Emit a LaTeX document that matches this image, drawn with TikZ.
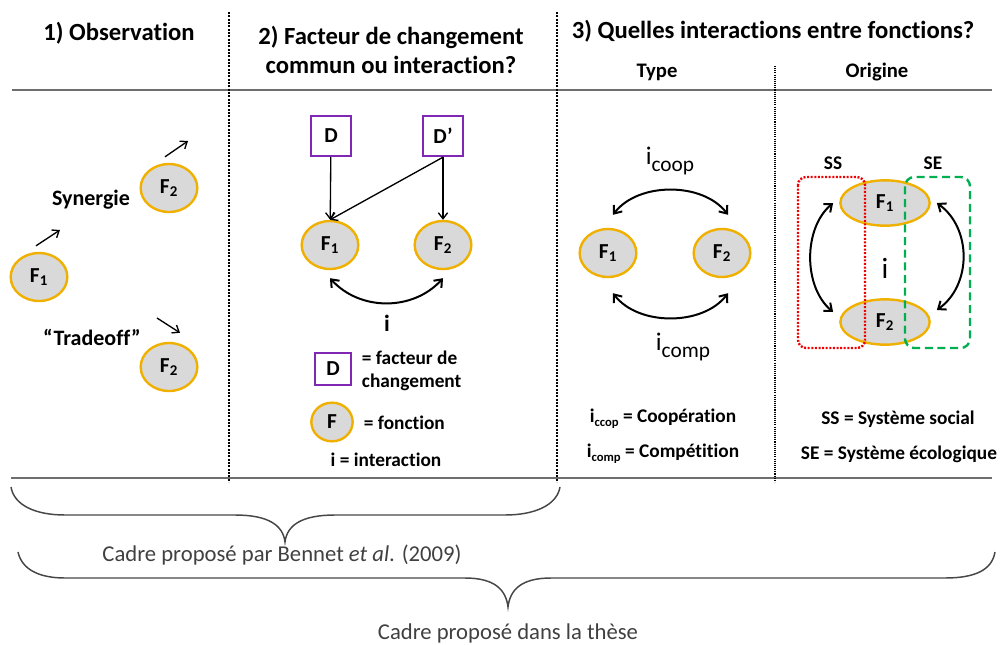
\documentclass[tikz,border=0pt]{standalone}
\usepackage{fontspec}
\setmainfont{Carlito}[Ligatures={NoCommon}]
\usetikzlibrary{shapes.geometric,arrows.meta,calc}

\newcommand{\grandi}[1]{{\fontsize{19}{22}\selectfont i}\raisebox{-5pt}{\fontsize{16}{19}\selectfont #1}}
\newcommand{\petiti}[1]{i\raisebox{-3pt}{\fontsize{9.5}{11}\selectfont #1}}

\tikzset{every picture/.style={line width=0.75pt}}
\tikzset{
	fonction/.style={ellipse, draw={rgb, 255:red, 240; green, 176; blue, 0 }, fill={rgb, 255:red, 217; green, 217; blue, 217 }, line width=1.8pt, inner sep=0pt, minimum width=42.5pt, minimum height=36pt, font=\bfseries\fontsize{16}{18}\selectfont},
	facteur/.style={draw={rgb, 255:red, 128; green, 40; blue, 180 }, line width=1.8pt, inner sep=0pt, minimum width=30pt, minimum height=30pt, font=\bfseries\fontsize{16}{18}\selectfont},
	fleche/.style={-{Straight Barb[length=4.5pt,width=7pt]}, line width=1pt},
	double fleche/.style={{Straight Barb[length=5pt,width=8pt]}-{Straight Barb[length=5pt,width=8pt]}, line width=1.5pt},
	titre/.style={font=\bfseries\fontsize{18.5}{22}\selectfont},
	soustitre/.style={font=\bfseries\fontsize{15.5}{18}\selectfont},
	texte/.style={font=\bfseries\fontsize{14.5}{17}\selectfont},
	observation/.style={font=\bfseries\fontsize{16.5}{19}\selectfont},
	legende/.style={font=\fontsize{17}{20}\selectfont, text={rgb, 255:red, 64; green, 64; blue, 64 }},
	separateur/.style={draw={rgb, 255:red, 110; green, 110; blue, 110 }, line width=1.5pt},
	pointille/.style={line width=1.8pt, dash pattern={on 1.4pt off 1.1pt}},
	pointille fin/.style={line width=0.8pt, dash pattern={on 0.8pt off 0.8pt}},
	systeme social/.style={draw={rgb, 255:red, 240; green, 0; blue, 0 }, line width=1.8pt, dash pattern={on 1.5pt off 1.2pt}, rounded corners=6pt},
	systeme ecologique/.style={draw={rgb, 255:red, 0; green, 176; blue, 80 }, line width=1.8pt, dash pattern={on 6pt off 3.5pt}, rounded corners=7pt},
	accolade/.style={draw={rgb, 255:red, 70; green, 70; blue, 70 }, line width=1.1pt}}

\begin{document}
\begin{tikzpicture}[x=0.75pt,y=0.75pt,yscale=-1,xscale=1]
	\useasboundingbox (0,0) rectangle (1001,644);

	%Straight Lines [separateurs]
	\draw [separateur] (12,90) -- (992,90) ;
	\draw [separateur] (11,478) -- (992,478) ;
	\draw [pointille] (229,12) -- (229,482) ;
	\draw [pointille] (557,12) -- (557,482) ;
	\draw [pointille fin] (775,66) -- (775,482) ;

	% Text Node
	\draw (119,33) node [titre] (titre1) {1) Observation};
	% Text Node
	\draw (391,50) node [titre, align=center] (titre2) {2) Facteur de changement\\commun ou interaction?};
	% Text Node
	\draw (773,31) node [titre] (titre3) {3) Quelles interactions entre fonctions?};
	% Text Node
	\draw (657,72) node [soustitre] (type) {Type};
	% Text Node
	\draw (877,72) node [soustitre] (origine) {Origine};

	%Shape: Ellipse [1) observation]
	\draw (39,277) node [fonction] (f1a) {F\textsubscript{1}};
	\draw (169,188) node [fonction] (f2a) {F\textsubscript{2}};
	\draw (169,367) node [fonction] (f2t) {F\textsubscript{2}};
	% Text Node
	\draw (91,200) node [observation] (synergie) {Synergie};
	% Text Node
	\draw (92,337) node [observation] (tradeoff) {“Tradeoff”};
	%Straight Lines
	\coordinate (hausse1) at (60,230);
	\coordinate (hausse2) at (188,141);
	\coordinate (baisse) at (157,318);
	\draw [fleche] ($(f1a.north)+(-3,-6)$) -- (hausse1) ;
	\draw [fleche] ($(f2a.north)+(-4,-6)$) -- (hausse2) ;
	\draw [fleche] (baisse) -- ($(f2t.north)+(11,-9)$) ;

	%Shape: Rectangle [2) facteurs]
	\draw (331,136) node [facteur] (d) {D};
	\draw (443,136) node [facteur] (dp) {D’};
	%Shape: Ellipse
	\draw (330,245) node [fonction] (f1b) {F\textsubscript{1}};
	\draw (443,245) node [fonction] (f2b) {F\textsubscript{2}};
	%Straight Lines
	\draw [fleche] (d) -- (f1b) ;
	\draw [fleche] (dp) -- (f2b) ;
	\draw [fleche] (dp.south) -- (f1b.north) ;
	%Curve Lines
	\draw [double fleche] ($(f1b.south)+(0,8)$) .. controls +(30,33) and +(-30,33) .. ($(f2b.south)+(0,8)$) ;
	% Text Node
	\draw (387,323) node [font=\bfseries\fontsize{17.5}{20}\selectfont] (ib) {i};
	%legende
	\draw (333,369) node [facteur, minimum width=27pt, minimum height=24pt] (dlegende) {D};
	\draw (357,371) node [texte, anchor=west, align=left] (dtexte) {= facteur de\\changement};
	\draw (332,422) node [fonction, minimum width=31pt, minimum height=29pt] (flegende) {F};
	\draw (359,423) node [texte, anchor=west] (ftexte) {= fonction};
	\draw (386,460) node [texte] (itexte) {i = interaction};

	%Shape: Ellipse [3) type]
	\draw (608,253) node [fonction] (f1c) {F\textsubscript{1}};
	\draw (722,253) node [fonction] (f2c) {F\textsubscript{2}};
	%Curve Lines
	\draw [double fleche] ($(f1c.north)+(5,-13)$) .. controls +(25,-33) and +(-25,-33) .. ($(f2c.north)+(6,-13)$) ;
	\draw [double fleche] ($(f1c.south)+(5,15)$) .. controls +(25,33) and +(-25,33) .. ($(f2c.south)+(6,15)$) ;
	% Text Node
	\draw (670,161) node (icoop) {\grandi{coop}};
	% Text Node
	\draw (683,347) node (icomp) {\grandi{comp}};
	% Text Node
	\draw (663,419) node [texte] (coop) {\petiti{ccop} = Coopération};
	\draw (663,454) node [texte] (comp) {\petiti{comp} = Compétition};

	%Shape: Ellipse [3) origine]
	\draw (885,203) node [fonction, minimum width=67pt, minimum height=34pt] (f1d) {F\textsubscript{1}};
	\draw (885,322) node [fonction, minimum width=67pt, minimum height=34pt] (f2d) {F\textsubscript{2}};
	%Shape: Rectangle
	\draw [systeme social] (798,177) rectangle (865,348) ;
	\draw [systeme ecologique] (905,177) rectangle (970,348) ;
	% Text Node
	\draw (833,163) node [texte] (ss) {SS};
	\draw (933,163) node [texte] (se) {SE};
	%Curve Lines
	\draw [double fleche] ($(f1d.west)+(-6,0)$) .. controls +(-30,25) and +(-30,-25) .. ($(f2d.west)+(-6,-10)$) ;
	\draw [double fleche] ($(f1d.east)+(6,0)$) .. controls +(35,25) and +(35,-25) .. ($(f2d.east)+(6,-12)$) ;
	% Text Node
	\draw (885,268) node [font=\fontsize{22}{24}\selectfont] (id) {i};
	% Text Node
	\draw (898,419) node [texte] (sstexte) {SS = Système social};
	\draw (899,454) node [texte] (setexte) {SE = Système écologique};

	%Curve Lines [accolades]
	\draw [accolade] (11,487) .. controls (14,505) and (35,515) .. (65,515) -- (235,515) .. controls (268,515) and (283,525) .. (285,542) .. controls (287,525) and (302,515) .. (335,515) -- (505,515) .. controls (535,515) and (557,505) .. (560,487) ;
	\draw [accolade] (18,552) .. controls (22,570) and (40,578) .. (65,578) -- (465,578) .. controls (495,578) and (506,590) .. (508,607) .. controls (510,590) and (521,578) .. (551,578) -- (945,578) .. controls (975,578) and (992,570) .. (995,552) ;
	% Text Node
	\draw (282,555) node [legende] (bennet) {Cadre proposé par Bennet \textit{et al}. (2009)};
	% Text Node
	\draw (508,633) node [legende] (these) {Cadre proposé dans la thèse};

\end{tikzpicture}
\end{document}
